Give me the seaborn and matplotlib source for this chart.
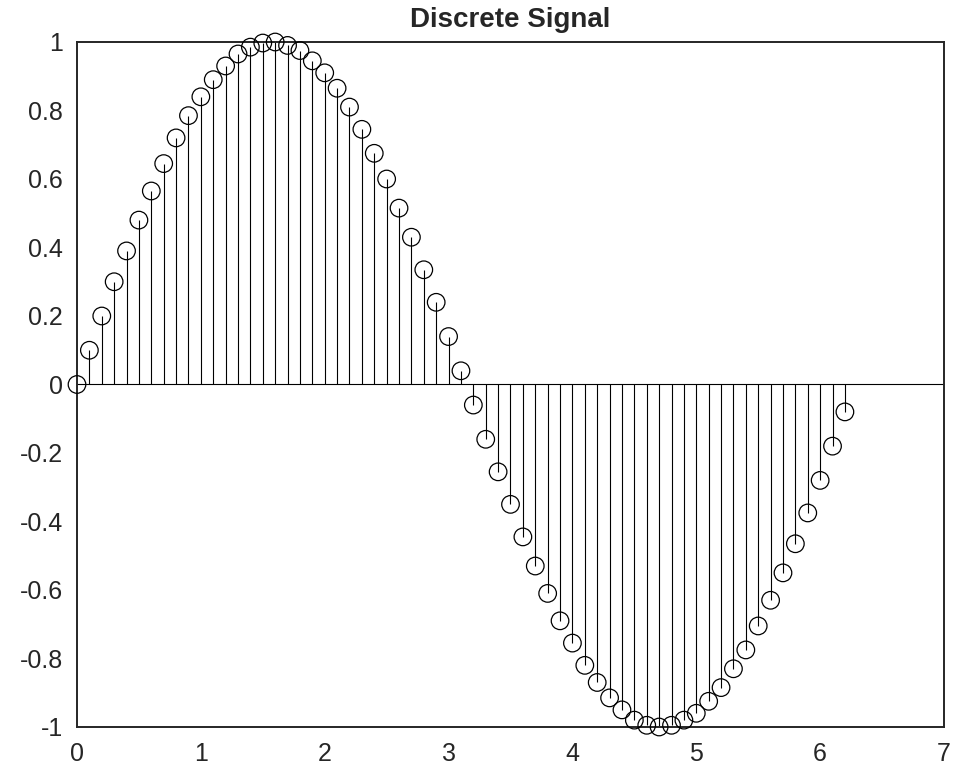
import matplotlib
matplotlib.use("Agg")
import matplotlib.pyplot as plt
import seaborn as sns
import pandas as pd

t_values = [0.0, 0.1, 0.2, 0.3, 0.4, 0.5, 0.6, 0.7, 0.8, 0.9,
            1.0, 1.1, 1.2, 1.3, 1.4, 1.5, 1.6, 1.7, 1.8, 1.9,
            2.0, 2.1, 2.2, 2.3, 2.4, 2.5, 2.6, 2.7, 2.8, 2.9,
            3.0, 3.1, 3.2, 3.3, 3.4, 3.5, 3.6, 3.7, 3.8, 3.9,
            4.0, 4.1, 4.2, 4.3, 4.4, 4.5, 4.6, 4.7, 4.8, 4.9,
            5.0, 5.1, 5.2, 5.3, 5.4, 5.5, 5.6, 5.7, 5.8, 5.9,
            6.0, 6.1, 6.2]
signal_values = [0.00, 0.10, 0.20, 0.30, 0.39, 0.48, 0.565, 0.645, 0.72, 0.785,
                 0.84, 0.89, 0.93, 0.965, 0.985, 0.997, 1.00, 0.99, 0.975, 0.945,
                 0.91, 0.865, 0.81, 0.745, 0.675, 0.60, 0.515, 0.43, 0.335, 0.24,
                 0.14, 0.04, -0.06, -0.16, -0.255, -0.35, -0.445, -0.53, -0.61, -0.69,
                 -0.755, -0.82, -0.87, -0.915, -0.95, -0.98, -0.995, -1.00, -0.995, -0.98,
                 -0.96, -0.925, -0.885, -0.83, -0.775, -0.705, -0.63, -0.55, -0.465, -0.375,
                 -0.28, -0.18, -0.08]
x_ticks = [0, 1, 2, 3, 4, 5, 6, 7]
y_ticks = [-1, -0.8, -0.6, -0.4, -0.2, 0, 0.2, 0.4, 0.6, 0.8, 1]
y_tick_labels = ["-1", "-0.8", "-0.6", "-0.4", "-0.2", "0", "0.2", "0.4", "0.6", "0.8", "1"]
title_text = "Discrete Signal"

df = pd.DataFrame({"t": t_values, "y": signal_values})

sns.set_style("white")
plt.rcParams["font.family"] = ["Liberation Sans", "DejaVu Sans"]

fig = plt.figure(figsize=(9.61, 7.65), dpi=100)
ax = fig.add_axes([77 / 961, 1 - 727 / 765, (944 - 77) / 961, (727 - 42) / 765])

# baseline
ax.axhline(0, color="black", lw=0.8, zorder=1)
# stems
ax.vlines(df["t"], 0, df["y"], color="black", lw=0.8, zorder=2)
# markers
sns.scatterplot(data=df, x="t", y="y", ax=ax, marker="o", s=160,
                facecolor="none", edgecolor="black", linewidth=0.9, zorder=3,
                clip_on=False)

ax.set_xlim(0, 7)
ax.set_ylim(-1, 1)
ax.set_xticks(x_ticks)
ax.set_xticklabels([str(v) for v in x_ticks])
ax.set_yticks(y_ticks)
ax.set_yticklabels(y_tick_labels)
ax.set_xlabel("")
ax.set_ylabel("")
ax.tick_params(direction="in", length=6, width=1.2, colors="#262626",
               labelsize=18, top=False, right=False)
ax.tick_params(axis="x", pad=11)
ax.tick_params(axis="y", pad=10)
for sp in ax.spines.values():
    sp.set_visible(True)
    sp.set_color("#262626")
    sp.set_linewidth(1.4)
ax.set_title(title_text, fontsize=20, fontweight="bold", pad=10.8)

fig.savefig("out.png", dpi=100)
